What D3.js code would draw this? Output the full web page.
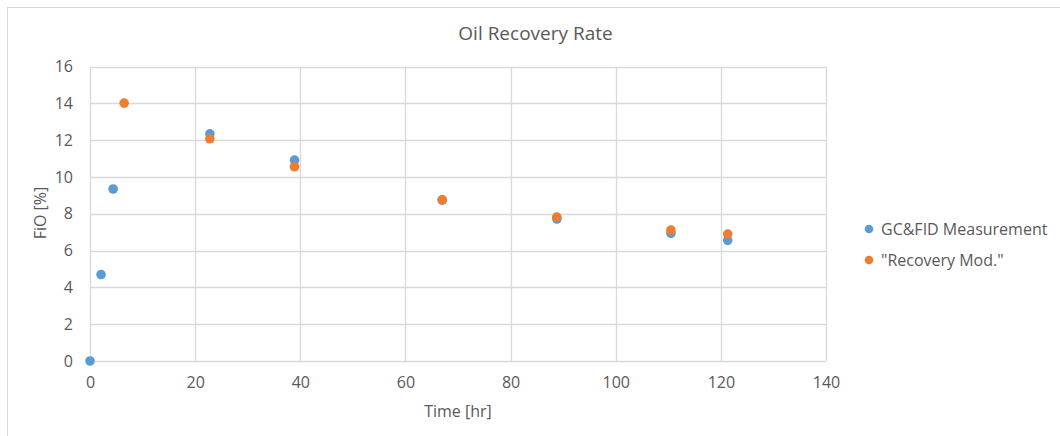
<!DOCTYPE html>
<html>
<head>
<meta charset="utf-8">
<script src="https://cdn.jsdelivr.net/npm/d3@7"></script>
<style>
  html, body { margin: 0; padding: 0; background: #fff; }
  svg { display: block; font-family: "Open Sans", "Liberation Sans", sans-serif; }
</style>
</head>
<body>
<svg id="chart" width="1060" height="436"></svg>
<script>
// Measured oil recovery (GC&FID) vs. the recovery model, in percent over time
const seriesNames = ["GC&FID Measurement", "\"Recovery Mod.\""];
const measTime  = [0, 2.1, 4.4, 22.8, 38.9, 67.0, 88.8, 110.5, 121.3];
const measFiO   = [0, 4.7, 9.35, 12.35, 10.92, 8.75, 7.72, 6.94, 6.56];
const modelTime = [6.5, 22.8, 38.9, 67.0, 88.8, 110.5, 121.3];
const modelFiO  = [14.02, 12.08, 10.56, 8.76, 7.82, 7.12, 6.9];
const xTicks = [0, 20, 40, 60, 80, 100, 120, 140];
const yTicks = [0, 2, 4, 6, 8, 10, 12, 14, 16];
const colors = ["#5B9BD5", "#ED7D31"];

const svg = d3.select("#chart");
const textColor = "#595959";
const gridColor = "#D9D9D9";
const labelSize = "16px";

// chart frame
svg.append("rect")
  .attr("x", 7.5).attr("y", 7.5)
  .attr("width", 1070).attr("height", 450)
  .attr("fill", "none").attr("stroke", gridColor).attr("stroke-width", 1);

const x = d3.scaleLinear().domain([0, 140]).range([90, 826]);
const y = d3.scaleLinear().domain([0, 16]).range([361, 66.7]);

// gridlines
const grid = svg.append("g");
grid.selectAll("line.v").data(xTicks).join("line")
  .attr("x1", d => Math.round(x(d)) + 0.5).attr("x2", d => Math.round(x(d)) + 0.5)
  .attr("y1", y(16)).attr("y2", y(0))
  .attr("stroke", gridColor).attr("stroke-width", 1.3);
grid.selectAll("line.h").data(yTicks).join("line")
  .attr("y1", d => Math.round(y(d)) + 0.5).attr("y2", d => Math.round(y(d)) + 0.5)
  .attr("x1", x(0)).attr("x2", x(140))
  .attr("stroke", gridColor).attr("stroke-width", 1.3);

// axes (labels only; gridlines serve as the axis lines)
const xAxis = svg.append("g")
  .attr("transform", `translate(0,${y(0)})`)
  .call(d3.axisBottom(x).tickValues(xTicks).tickSize(0).tickPadding(16));
const yAxis = svg.append("g")
  .attr("transform", `translate(${x(0)},0)`)
  .call(d3.axisLeft(y).tickValues(yTicks).tickSize(0).tickPadding(17));
[xAxis, yAxis].forEach(g => {
  g.select(".domain").remove();
  g.selectAll("text")
    .attr("fill", textColor)
    .style("font-size", labelSize)
    .style("font-family", "\"Open Sans\", sans-serif");
});

// title and axis titles
svg.append("text")
  .attr("x", 535.5).attr("y", 40)
  .attr("text-anchor", "middle")
  .attr("fill", textColor)
  .style("font-size", "19px")
  .text("Oil Recovery Rate");
svg.append("text")
  .attr("x", 458).attr("y", 417)
  .attr("text-anchor", "middle")
  .attr("fill", textColor)
  .style("font-size", labelSize)
  .text("Time [hr]");
svg.append("text")
  .attr("transform", "translate(46,213) rotate(-90)")
  .attr("text-anchor", "middle")
  .attr("fill", textColor)
  .style("font-size", labelSize)
  .text("FiO [%]");

// points
const meas = measTime.map((t, i) => ({ t, v: measFiO[i] }));
const model = modelTime.map((t, i) => ({ t, v: modelFiO[i] }));
svg.append("g").selectAll("circle").data(meas).join("circle")
  .attr("cx", d => x(d.t)).attr("cy", d => y(d.v)).attr("r", 4.8)
  .attr("fill", colors[0]);
svg.append("g").selectAll("circle").data(model).join("circle")
  .attr("cx", d => x(d.t)).attr("cy", d => y(d.v)).attr("r", 4.8)
  .attr("fill", colors[1]);

// legend
const legend = svg.append("g");
seriesNames.forEach((name, i) => {
  const ly = 229 + i * 31;
  legend.append("circle").attr("cx", 869).attr("cy", ly).attr("r", 4.3).attr("fill", colors[i]);
  legend.append("text")
    .attr("x", 881).attr("y", ly + 5.5)
    .attr("fill", textColor)
    .style("font-size", labelSize)
    .text(name);
});
</script>
</body>
</html>
